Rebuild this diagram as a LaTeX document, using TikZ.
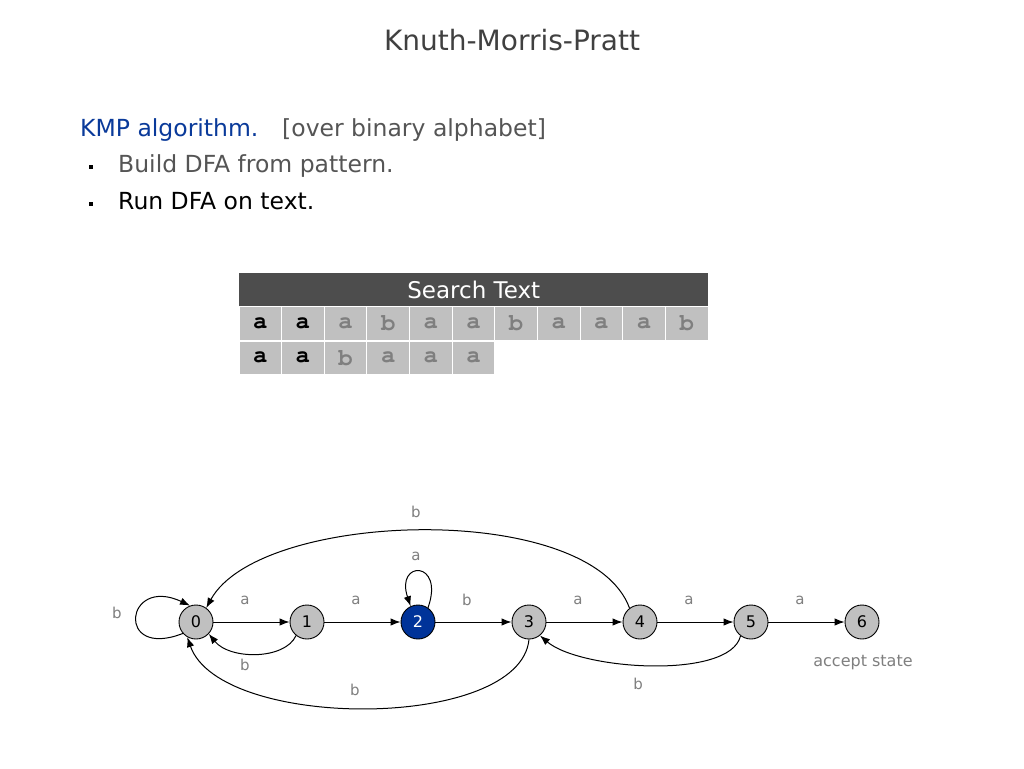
\documentclass[tikz,border=0pt]{standalone}
\usepackage[T1]{fontenc}
\usepackage{fontspec}
\setmainfont{DejaVu Sans}
\newcommand\cellfont{\fontencoding{T1}\fontfamily{pcr}\fontseries{b}\selectfont}
\usetikzlibrary{arrows.meta}
\definecolor{titlegray}{HTML}{404040}
\definecolor{kmpblue}{HTML}{0A3A9A}
\definecolor{textgray}{HTML}{555555}
\definecolor{labgray}{HTML}{7F7F7F}
\definecolor{hdrgray}{HTML}{4D4D4D}
\definecolor{cellgray}{HTML}{C0C0C0}
\definecolor{statefill}{HTML}{C0C0C0}
\definecolor{curblue}{HTML}{003399}
\begin{document}
\begin{tikzpicture}[x=1pt,y=-1pt,
  state/.style={circle,draw=black,line width=0.9pt,fill=statefill,minimum size=34pt,inner sep=0pt,font=\fontsize{16}{16}\selectfont},
  cur/.style={state,fill=curblue,text=white},
  arr/.style={-{Latex[length=10pt,width=7.5pt]},line width=1pt},
  elab/.style={text=labgray,font=\fontsize{15}{15}\selectfont},
  cell/.style={fill=cellgray,minimum width=41.6pt,minimum height=32.5pt,inner sep=0pt,font=\cellfont\fontsize{24}{24}\selectfont},
  on/.style={cell,text=black},
  off/.style={cell,text=labgray}]
\useasboundingbox[fill=white] (0,0) rectangle (1024,768);
% title and text
\node[text=titlegray,font=\fontsize{28}{28}\selectfont,anchor=base] (title) at (512,50) {Knuth-Morris-Pratt};
\node[text=kmpblue,font=\fontsize{23.5}{23.5}\selectfont,anchor=base west,inner sep=0pt] (kmp) at (80,136) {KMP algorithm.};
\node[text=textgray,font=\fontsize{23.5}{23.5}\selectfont,anchor=base west,inner sep=0pt] (over) at (282,136) {[over binary alphabet]};
\node[fill=black,minimum size=4pt,inner sep=0pt] (b1) at (91,167) {};
\node[text=textgray,font=\fontsize{23.5}{23.5}\selectfont,anchor=base west,inner sep=0pt] (build) at (118,172) {Build DFA from pattern.};
\node[fill=black,minimum size=4pt,inner sep=0pt] (b2) at (91,204) {};
\node[text=black,font=\fontsize{23.5}{23.5}\selectfont,anchor=base west,inner sep=0pt] (run) at (118,209) {Run DFA on text.};
% table
\node[fill=hdrgray,minimum width=469pt,minimum height=33pt,inner sep=0pt,text=white,font=\fontsize{23}{23}\selectfont,anchor=north west] (hdr) at (239,273) {Search Text};
\foreach \c [count=\i from 0] in {a,a,a,b,a,a,b,a,a,a,b}{
  \ifnum\i<2 \node[on] (t\i) at (260.3+42.64*\i,323.5) {\c};
  \else \node[off] (t\i) at (260.3+42.64*\i,323.5) {\c}; \fi
}
\foreach \c [count=\i from 0] in {a,a,b,a,a,a}{
  \ifnum\i<2 \node[on] (p\i) at (260.3+42.64*\i,357.8) {\c};
  \else \node[off] (p\i) at (260.3+42.64*\i,357.8) {\c}; \fi
}
% DFA
\node[state] (n0) at (196,622) {0};
\node[state] (n1) at (307,622) {1};
\node[cur] (n2) at (418,622) {2};
\node[state] (n3) at (529,622) {3};
\node[state] (n4) at (640,622) {4};
\node[state] (n5) at (751,622) {5};
\node[state] (n6) at (862,622) {6};
\draw[arr] (n0) -- (n1);
\draw[arr] (n1) -- (n2);
\draw[arr] (n2) -- (n3);
\draw[arr] (n3) -- (n4);
\draw[arr] (n4) -- (n5);
\draw[arr] (n5) -- (n6);
\node[elab] (la01) at (245,600) {a};
\node[elab] (la12) at (356,600) {a};
\node[elab] (la23) at (467,600) {b};
\node[elab] (la34) at (578,600) {a};
\node[elab] (la45) at (689,600) {a};
\node[elab] (la56) at (800,600) {a};
% back edges
\draw[arr] (n1.231) .. controls (285,660) and (230,660) .. (n0.317);
\node[elab] (lb10) at (245,665) {b};
\draw[arr] (n0.221) .. controls (115,660) and (125,575) .. (n0.110);
\node[elab] (lb00) at (117,613) {b};
\draw[arr] (n2.55) .. controls (445,560) and (395,560) .. (n2.115);
\node[elab] (la22) at (416,556) {a};
\draw[arr] (n4.127) .. controls (590,500) and (260,510) .. (n0.54);
\node[elab] (lb40) at (416,512) {b};
\draw[arr] (n3.270) .. controls (520,731) and (220,731) .. (n0.240);
\node[elab] (lb30) at (355,690) {b};
\draw[arr] (n5.233) .. controls (730,680) and (580,670) .. (n3.309);
\node[elab] (lb53) at (638,684) {b};
\node[elab,font=\fontsize{16}{16}\selectfont] (acc) at (863,663) {accept state};
\end{tikzpicture}
\end{document}
